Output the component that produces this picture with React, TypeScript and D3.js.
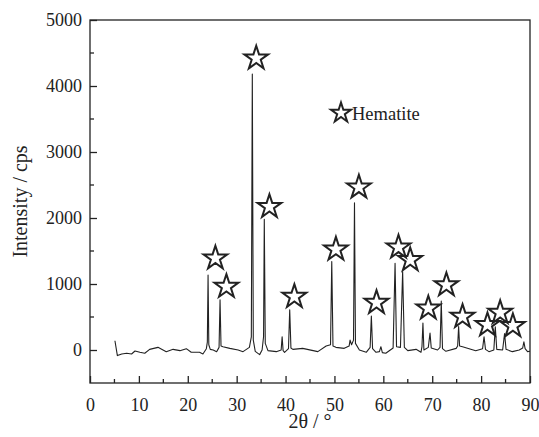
import React, { useEffect, useRef } from "react";
import * as d3 from "d3";

// XRD profile (2θ in degrees, intensity in cps)
const theta = [
  5.1, 5.6, 6.5, 7.5, 8.5, 9.2, 10.2, 11.2, 12.2, 13.9, 15.6, 17.0, 18.4, 19.7, 20.7, 22.4, 23.1, 23.8,
  24.0, 24.15, 24.3, 24.6, 25.2, 25.9, 26.4, 26.6, 26.8, 27.2, 28.6, 30.3, 31.3, 32.6, 33.0, 33.2, 33.4,
  33.8, 34.7, 35.2, 35.5, 35.65, 35.85, 36.4, 38.1, 39.1, 39.3, 39.5, 39.8, 40.6, 40.85, 41.1, 41.5, 43.5,
  46.6, 48.3, 49.2, 49.45, 49.7, 50.3, 52.0, 53.0, 53.2, 53.5, 53.9, 54.1, 54.3, 55.1, 56.5, 57.3, 57.55,
  57.8, 58.5, 59.2, 59.5, 59.8, 60.5, 62.0, 62.4, 62.7, 63.5, 63.95, 64.3, 65.0, 66.7, 67.7, 67.9, 68.1,
  68.3, 69.2, 69.55, 69.8, 71.1, 71.6, 71.85, 72.1, 72.8, 74.9, 75.2, 75.4, 75.6, 76.2, 78.9, 80.3, 80.6,
  80.9, 81.6, 82.6, 82.9, 83.2, 84.4, 84.8, 85.1, 86.4, 87.8, 88.5, 88.75, 89.0, 89.5, 90.0,
];
const intensity = [
  140, -85, -60, -50, -60, -15, -35, -50, 10, 40, -25, 10, -10, 20, -35, -35, -60, 20,
  120, 1135, 80, 10, 0, -25, 40, 760, 60, 50, 25, 0, -25, 40, 200, 4180, 150,
  -20, -70, 0, 200, 1980, 100, -10, -25, 0, 200, -10, -35, 20, 610, 30, 10, 25,
  -25, 60, 80, 1340, 60, 40, 25, 60, 150, 80, 150, 2230, 100, 0, -35, 40, 515,
  20, -35, -25, 50, -40, -50, 30, 1315, 50, 40, 1190, 40, -10, 10, -35, 50, 410,
  0, 40, 255, 30, 0, 40, 740, 20, -20, 25, 60, 355, 60, 50, -10, 20, 200,
  10, -25, 0, 350, 10, 0, 250, 10, -25, 0, 30, 125, 20, -25, -20,
];

// hematite markers (star centres)
const starTheta = [25.65, 27.9, 34.0, 36.7, 41.8, 50.3, 55.0, 58.6, 63.1, 65.5, 69.2, 72.9, 76.2, 81.3, 83.9, 86.5];
const starIntensity = [1390, 960, 4420, 2170, 808, 1525, 2465, 717, 1556, 1364, 632, 985, 505, 379, 565, 364];

const xTicks = [0, 10, 20, 30, 40, 50, 60, 70, 80, 90];
const xMinorTicks = [5, 15, 25, 35, 45, 55, 65, 75, 85];
const yTicks = [0, 1000, 2000, 3000, 4000, 5000];
const yMinorTicks = [500, 1500, 2500, 3500, 4500];

const legendLabel = "Hematite";
const xTitle = "2θ / °";
const yTitle = "Intensity / cps";

const W = 539;
const H = 437;
const ink = "#222";

export default function App() {
  const ref = useRef<SVGSVGElement>(null);

  useEffect(() => {
    const svg = d3.select(ref.current);
    svg.selectAll("*").remove();

    const left = 90, right = 530, top = 20, bottom = 383;

    const x = d3.scaleLinear().domain([0, 90]).range([left, right]);
    const y = d3.scaleLinear().domain([-500, 5000]).range([bottom, top]);

    // frame
    svg.append("rect")
      .attr("x", left)
      .attr("y", top)
      .attr("width", right - left)
      .attr("height", bottom - top)
      .attr("fill", "none")
      .attr("stroke", ink)
      .attr("stroke-width", 1.3);

    // x axis (ticks pointing in)
    const xAxis = svg.append("g").attr("transform", `translate(0, ${bottom})`);
    xAxis.call(
      d3.axisBottom(x).tickValues(xTicks).tickSize(-7).tickPadding(15).tickFormat(d3.format("d"))
    );
    xAxis.attr("font-family", null).attr("font-size", 18);
    xAxis.select(".domain").remove();
    xAxis.selectAll("line").attr("stroke", ink).attr("stroke-width", 1.3);
    xAxis.selectAll("text").attr("fill", ink).attr("dy", "0.71em");

    xAxis.selectAll(".minor")
      .data(xMinorTicks)
      .join("line")
      .attr("class", "minor")
      .attr("x1", d => x(d))
      .attr("x2", d => x(d))
      .attr("y1", 0)
      .attr("y2", -4)
      .attr("stroke", ink)
      .attr("stroke-width", 1.3);

    // y axis
    const yAxis = svg.append("g").attr("transform", `translate(${left}, 0)`);
    yAxis.call(
      d3.axisLeft(y).tickValues(yTicks).tickSize(-7).tickPadding(8).tickFormat(d3.format("d"))
    );
    yAxis.attr("font-family", null).attr("font-size", 18);
    yAxis.select(".domain").remove();
    yAxis.selectAll("line").attr("stroke", ink).attr("stroke-width", 1.3);
    yAxis.selectAll("text").attr("fill", ink);

    yAxis.selectAll(".minor")
      .data(yMinorTicks)
      .join("line")
      .attr("class", "minor")
      .attr("x1", 0)
      .attr("x2", 4)
      .attr("y1", d => y(d))
      .attr("y2", d => y(d))
      .attr("stroke", ink)
      .attr("stroke-width", 1.3);

    // titles
    svg.append("text")
      .attr("x", (left + right) / 2)
      .attr("y", 428)
      .attr("text-anchor", "middle")
      .attr("font-size", 20)
      .attr("fill", ink)
      .text(xTitle);

    svg.append("text")
      .attr("transform", `translate(27, ${(top + bottom) / 2}) rotate(-90)`)
      .attr("text-anchor", "middle")
      .attr("font-size", 20)
      .attr("fill", ink)
      .text(yTitle);

    // pattern
    const points = theta.map((t, i) => [t, intensity[i]] as [number, number]);
    const line = d3.line<[number, number]>()
      .x(d => x(d[0]))
      .y(d => y(d[1]));

    svg.append("path")
      .datum(points)
      .attr("d", line)
      .attr("fill", "none")
      .attr("stroke", ink)
      .attr("stroke-width", 1.1)
      .attr("stroke-linejoin", "round");

    // star markers
    const star = d3.symbol().type(d3.symbolStar);
    const starSize = (r: number) => (r * r) / 0.8908130915292852;

    svg.append("g")
      .selectAll("path")
      .data(starTheta.map((t, i) => [t, starIntensity[i]]))
      .join("path")
      .attr("transform", d => `translate(${x(d[0])}, ${y(d[1])})`)
      .attr("d", star.size(starSize(12.5))())
      .attr("fill", "none")
      .attr("stroke", ink)
      .attr("stroke-width", 2)
      .attr("stroke-linejoin", "miter");

    // legend
    const legend = svg.append("g").attr("transform", "translate(341, 113)");
    legend.append("path")
      .attr("d", star.size(starSize(10.5))())
      .attr("fill", "none")
      .attr("stroke", ink)
      .attr("stroke-width", 2);
    legend.append("text")
      .attr("x", 11)
      .attr("y", 7)
      .attr("font-size", 18.5)
      .attr("fill", ink)
      .text(legendLabel);
  }, []);

  return (
    <div style={{ position: "absolute", left: 0, top: 0 }}>
      <svg
        ref={ref}
        width={W}
        height={H}
        style={{ display: "block", background: "#fff", fontFamily: "Liberation Serif" }}
      />
    </div>
  );
}
